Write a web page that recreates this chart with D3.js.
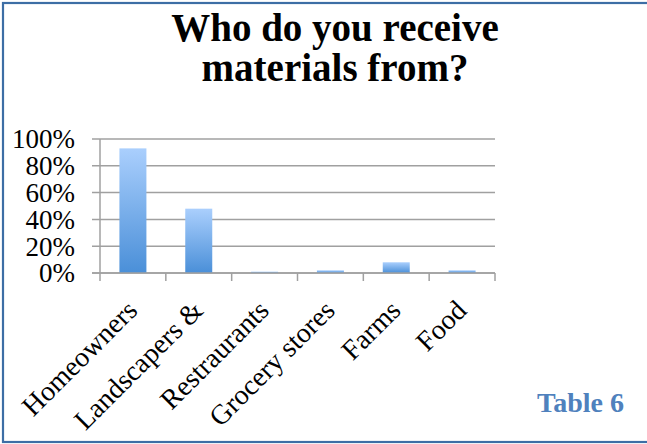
<!DOCTYPE html>
<html>
<head>
<meta charset="utf-8">
<script src="https://cdn.jsdelivr.net/npm/d3@7"></script>
<style>
  html, body { margin: 0; padding: 0; background: #fff; }
  svg { display: block; }
</style>
</head>
<body>
<svg id="chart" width="647" height="444"></svg>
<script>
// Survey responses: share of respondents receiving materials from each source
const categories = ["Homeowners", "Landscapers &", "Restraurants", "Grocery stores", "Farms", "Food"];
const shares = [0.93, 0.48, 0.01, 0.02, 0.08, 0.02];
const yTicks = [0, 0.2, 0.4, 0.6, 0.8, 1.0];
const titleLines = ["Who do you receive", "materials from?"];
const caption = "Table 6";

const svg = d3.select("#chart");
const serif = "'Liberation Serif', 'Times New Roman', serif";

// Outer frame
svg.append("rect")
  .attr("x", 3).attr("y", 3).attr("width", 650).attr("height", 439)
  .attr("fill", "#fff").attr("stroke", "#3d6ea5").attr("stroke-width", 2.2);

// Gradient for the bars
const defs = svg.append("defs");
const grad = defs.append("linearGradient").attr("id", "barGrad")
  .attr("x1", 0).attr("y1", 0).attr("x2", 0).attr("y2", 1);
grad.append("stop").attr("offset", "0%").attr("stop-color", "#aacffd");
grad.append("stop").attr("offset", "100%").attr("stop-color", "#4a8fd8");

const x = d3.scaleBand().domain(categories).range([100, 495]);
const y = d3.scaleLinear().domain([0, 1]).range([273, 139]);

// Gridlines with left tick stubs
svg.append("g")
  .selectAll("line")
  .data(yTicks)
  .join("line")
  .attr("x1", 92).attr("x2", 495)
  .attr("y1", d => y(d)).attr("y2", d => y(d))
  .attr("stroke", "#a0a0a0").attr("stroke-width", 1.5);

// Y axis line
svg.append("line")
  .attr("x1", 100).attr("x2", 100).attr("y1", y(1)).attr("y2", y(0))
  .attr("stroke", "#a0a0a0").attr("stroke-width", 1.5);

// Y tick labels
svg.append("g")
  .selectAll("text")
  .data(yTicks)
  .join("text")
  .attr("x", 75).attr("y", d => y(d))
  .attr("dy", "0.35em")
  .attr("text-anchor", "end")
  .attr("font-family", serif).attr("font-size", 27)
  .attr("fill", "#000")
  .text(d => d3.format(".0%")(d));

// Bars
const barW = x.bandwidth() * 0.41;
svg.append("g")
  .selectAll("rect")
  .data(categories)
  .join("rect")
  .attr("x", d => x(d) + (x.bandwidth() - barW) / 2)
  .attr("width", barW)
  .attr("y", (d, i) => y(shares[i]))
  .attr("height", (d, i) => y(0) - y(shares[i]))
  .attr("fill", "url(#barGrad)");

// X axis line and category boundary ticks
svg.append("line")
  .attr("x1", 92).attr("x2", 495).attr("y1", y(0)).attr("y2", y(0))
  .attr("stroke", "#a0a0a0").attr("stroke-width", 1.5);
const bounds = categories.map(c => x(c)).concat([x.range()[1]]);
svg.append("g")
  .selectAll("line")
  .data(bounds)
  .join("line")
  .attr("x1", d => d).attr("x2", d => d)
  .attr("y1", y(0)).attr("y2", y(0) + 8)
  .attr("stroke", "#a0a0a0").attr("stroke-width", 1.5);

// Rotated category labels
svg.append("g")
  .selectAll("text")
  .data(categories)
  .join("text")
  .attr("transform", d => `translate(${x(d) + x.bandwidth() / 2 + 6},${y(0) + 39}) rotate(-45)`)
  .attr("text-anchor", "end")
  .attr("font-family", serif).attr("font-size", 28)
  .attr("fill", "#000")
  .text(d => d);

// Title
svg.append("text")
  .attr("x", 335).attr("y", 41)
  .attr("text-anchor", "middle")
  .attr("font-family", serif).attr("font-size", 39).attr("font-weight", "bold")
  .attr("fill", "#000")
  .selectAll("tspan")
  .data(titleLines)
  .join("tspan")
  .attr("x", 335)
  .attr("dy", (d, i) => i === 0 ? 0 : 40)
  .text(d => d);

// Caption
svg.append("text")
  .attr("x", 624).attr("y", 412)
  .attr("text-anchor", "end")
  .attr("font-family", serif).attr("font-size", 28).attr("font-weight", "bold")
  .attr("fill", "#4f81bd")
  .text(caption);
</script>
</body>
</html>
